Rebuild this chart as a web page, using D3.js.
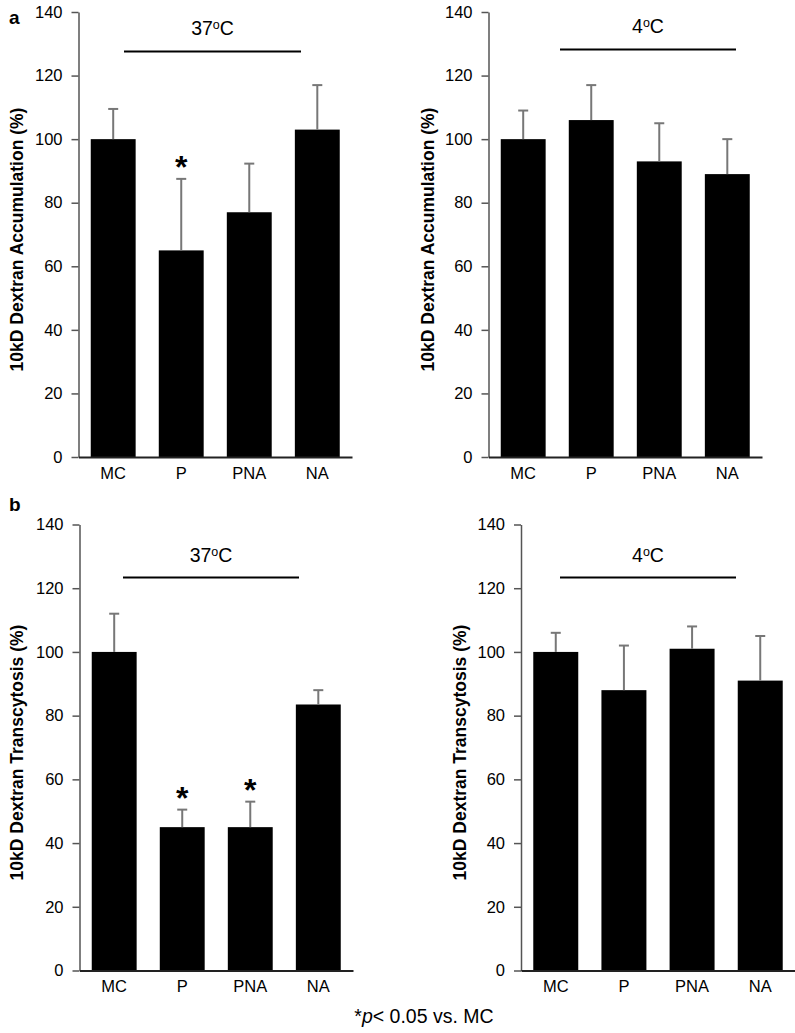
<!DOCTYPE html>
<html>
<head>
<meta charset="utf-8">
<script src="https://cdn.jsdelivr.net/npm/d3@7"></script>
<style>
  html, body { margin: 0; padding: 0; background: #fff; }
  svg { display: block; }
  text { font-family: "Liberation Sans", Arial, sans-serif; }
</style>
</head>
<body>
<svg id="chart" width="795" height="1033"></svg>
<script>
// ---- data ----
const categories = ["MC", "P", "PNA", "NA"];
const yTicks = [0, 20, 40, 60, 80, 100, 120, 140];

const accum37 = [100, 65, 77, 103];
const accum37Err = [109.5, 87.5, 92.3, 117];
const accum37Sig = [false, true, false, false];

const accum4 = [100, 106, 93, 89];
const accum4Err = [109, 117, 105, 100];
const accum4Sig = [false, false, false, false];

const trans37 = [100, 45, 45, 83.5];
const trans37Err = [112, 50.5, 53, 88];
const trans37Sig = [false, true, true, false];

const trans4 = [100, 88, 101, 91];
const trans4Err = [106, 102, 108, 105];
const trans4Sig = [false, false, false, false];

const panelTitles = ["37", "4", "37", "4"];
const yLabels = ["10kD Dextran Accumulation (%)", "10kD Dextran Transcytosis (%)"];
const panelLetters = ["a", "b"];
const footnote = { star: "*", p: "p", rest: "< 0.05 vs. MC" };

// ---- layout ----
const svg = d3.select("#chart");

const panels = [
  { vals: accum37, errs: accum37Err, sig: accum37Sig, temp: panelTitles[0], label: yLabels[0],
    x0: 78.5, x1: 352, yTop: 12, yBot: 457, labelX: 17, lineY: 51.5, lineX: [124, 301], titleY: 35 },
  { vals: accum4, errs: accum4Err, sig: accum4Sig, temp: panelTitles[1], label: yLabels[0],
    x0: 488.5, x1: 762, yTop: 12, yBot: 457, labelX: 428, lineY: 49.5, lineX: [560, 736], titleY: 33 },
  { vals: trans37, errs: trans37Err, sig: trans37Sig, temp: panelTitles[2], label: yLabels[1],
    x0: 79.5, x1: 353, yTop: 524.5, yBot: 970.5, labelX: 17, lineY: 577.5, lineX: [123, 299], titleY: 562 },
  { vals: trans4, errs: trans4Err, sig: trans4Sig, temp: panelTitles[3], label: yLabels[1],
    x0: 521, x1: 795, yTop: 524.5, yBot: 970.5, labelX: 460, lineY: 577.5, lineX: [560, 736], titleY: 562 }
];

panels.forEach(p => {
  const g = svg.append("g");
  const x = d3.scaleBand().domain(categories).range([p.x0, p.x1]).paddingInner(0.34).paddingOuter(0.18);
  const y = d3.scaleLinear().domain([0, 140]).range([p.yBot, p.yTop]);

  // bars
  g.selectAll("rect.bar").data(categories).join("rect")
    .attr("class", "bar")
    .attr("x", d => x(d))
    .attr("width", x.bandwidth())
    .attr("y", (d, i) => y(p.vals[i]))
    .attr("height", (d, i) => y(0) - y(p.vals[i]))
    .attr("fill", "#000");

  // error bars
  const eb = g.selectAll("g.err").data(categories).join("g").attr("class", "err");
  eb.append("line")
    .attr("x1", d => x(d) + x.bandwidth() / 2)
    .attr("x2", d => x(d) + x.bandwidth() / 2)
    .attr("y1", (d, i) => y(p.vals[i]))
    .attr("y2", (d, i) => y(p.errs[i]))
    .attr("stroke", "#777").attr("stroke-width", 2);
  eb.append("line")
    .attr("x1", d => x(d) + x.bandwidth() / 2 - 5)
    .attr("x2", d => x(d) + x.bandwidth() / 2 + 5)
    .attr("y1", (d, i) => y(p.errs[i]))
    .attr("y2", (d, i) => y(p.errs[i]))
    .attr("stroke", "#777").attr("stroke-width", 2);

  // significance stars
  g.selectAll("text.star").data(categories.filter((d, i) => p.sig[i])).join("text")
    .attr("class", "star")
    .attr("x", d => x(d) + x.bandwidth() / 2)
    .attr("y", d => y(p.errs[categories.indexOf(d)]) - 1)
    .attr("text-anchor", "middle")
    .attr("font-size", 32)
    .attr("font-weight", "bold")
    .text("*");

  // y axis
  const yAxis = d3.axisLeft(y).tickValues(yTicks).tickSize(7).tickPadding(9).tickSizeOuter(0);
  const ya = g.append("g").attr("transform", `translate(${p.x0},0)`).call(yAxis);
  ya.select(".domain").attr("stroke", "#555").attr("stroke-width", 1.5);
  ya.selectAll(".tick line").attr("stroke", "#555").attr("stroke-width", 1.5);
  ya.selectAll(".tick text").attr("font-size", 16.5).attr("fill", "#000")
    .attr("font-family", "Liberation Sans, Arial, sans-serif");

  // x axis
  const xAxis = d3.axisBottom(x).tickSize(0).tickPadding(10);
  const xa = g.append("g").attr("transform", `translate(0,${p.yBot})`).call(xAxis);
  xa.select(".domain").attr("stroke", "#222").attr("stroke-width", 2);
  xa.selectAll(".tick text").attr("font-size", 16.5).attr("fill", "#000")
    .attr("font-family", "Liberation Sans, Arial, sans-serif");

  // y label
  const cy = (p.yTop + p.yBot) / 2 + 5;
  g.append("text")
    .attr("transform", `translate(${p.labelX},${cy}) rotate(-90)`)
    .attr("text-anchor", "middle")
    .attr("dy", "0.35em")
    .attr("font-size", 17.5)
    .attr("font-weight", "bold")
    .text(p.label);

  // bracket line and temperature
  g.append("line")
    .attr("x1", p.lineX[0]).attr("x2", p.lineX[1])
    .attr("y1", p.lineY).attr("y2", p.lineY)
    .attr("stroke", "#000").attr("stroke-width", 2);
  const t = g.append("text")
    .attr("x", (p.lineX[0] + p.lineX[1]) / 2)
    .attr("y", p.titleY)
    .attr("text-anchor", "middle")
    .attr("font-size", 19.5);
  t.append("tspan").text(p.temp);
  t.append("tspan").attr("font-size", 12.5).attr("dy", -6).text("o");
  t.append("tspan").attr("dy", 6).text("C");
});

// panel letters
svg.append("text").attr("x", 9).attr("y", 24).attr("font-size", 19).attr("font-weight", "bold").text(panelLetters[0]);
svg.append("text").attr("x", 9).attr("y", 511).attr("font-size", 19).attr("font-weight", "bold").text(panelLetters[1]);

// footnote
const fn = svg.append("text")
  .attr("x", 424).attr("y", 1023)
  .attr("text-anchor", "middle")
  .attr("font-size", 19.5)
  .attr("font-family", "Open Sans, sans-serif");
fn.append("tspan").text(footnote.star);
fn.append("tspan").attr("font-style", "italic").text(footnote.p);
fn.append("tspan").text(footnote.rest);
</script>
</body>
</html>
